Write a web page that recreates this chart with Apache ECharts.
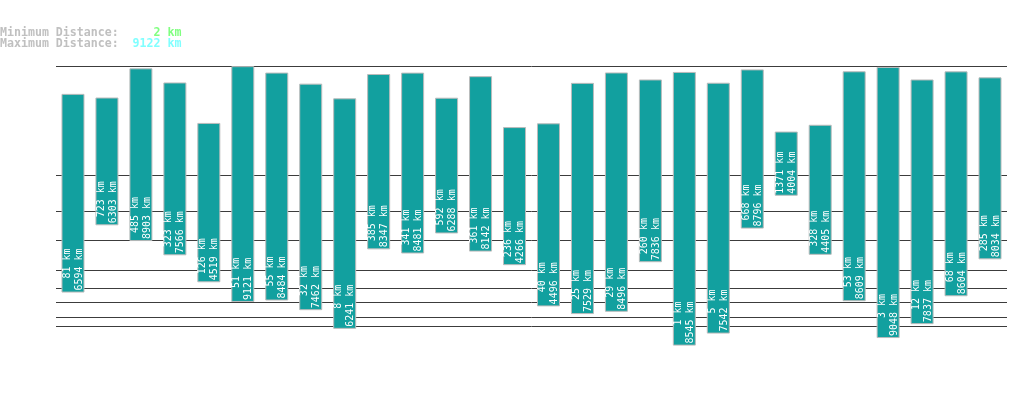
<!DOCTYPE html>
<html>
<head>
<meta charset="utf-8">
<script src="https://cdn.jsdelivr.net/npm/echarts@6/dist/echarts.min.js"></script>
<style>
html,body{margin:0;padding:0;background:#fff;}
#chart{width:1019px;height:402px;}
</style>
</head>
<body>
<div id="chart"></div>
<script>
// ---- data ----
var categories = ['1','2','3','4','5','6','7','8','9','10','11','12','13','14','15','16','17','18','19','20','21','22','23','24','25','26','27','28'];
var minKm = [81,723,485,323,126,51,55,32,8,385,341,592,361,236,40,25,29,260,1,5,668,1371,328,53,3,12,68,285];
var maxKm = [6594,6303,8903,7566,4519,9121,8484,7462,6241,8347,8481,6288,8142,4266,4496,7529,8496,7836,8545,7542,8796,4004,4405,8609,9048,7837,8604,8034];
var gridValues = [10,20,50,100,200,500,1000,2000];
var minimumDistance = 2;
var maximumDistance = 9122;
var POWER = 0.3;

function tf(v){ return Math.pow(v, POWER); }

var baseData = minKm.map(function(v){ return tf(v); });
var spanData = maxKm.map(function(v, i){ return tf(v) - tf(minKm[i]); });

var markData = gridValues.concat([maximumDistance]).map(function(v){ return { yAxis: tf(v) }; });

function pad(s, n){ s = String(s); while (s.length < n) s = ' ' + s; return s; }

var chart = echarts.init(document.getElementById('chart'), null, {renderer:'canvas'});
chart.setOption({
  animation: false,
  backgroundColor: '#ffffff',
  title: {
    left: 0, top: 27, padding: 0,
    text: '{a|Minimum Distance:}{g|' + pad(minimumDistance, 6) + ' km}\n{a|Maximum Distance:}{c|' + pad(maximumDistance, 6) + ' km}',
    textStyle: {
      rich: {
        a: { color: '#c0c0c0', fontFamily: 'DejaVu Sans Mono', fontWeight: 'bold', fontSize: 11.6, lineHeight: 11 },
        g: { color: '#80ff80', fontFamily: 'DejaVu Sans Mono', fontWeight: 'bold', fontSize: 11.6, lineHeight: 11 },
        c: { color: '#80ffff', fontFamily: 'DejaVu Sans Mono', fontWeight: 'bold', fontSize: 11.6, lineHeight: 11 }
      }
    }
  },
  grid: { left: 56, right: 12, top: 66, bottom: 37, containLabel: false },
  xAxis: { type: 'category', data: categories, show: false },
  yAxis: { type: 'value', min: 0, max: tf(maximumDistance) * 1.0005, show: false, splitLine: { show: false } },
  series: [
    {
      type: 'bar', stack: 'range', data: baseData, barWidth: 23, clip: false,
      itemStyle: { color: 'rgba(0,0,0,0)' }, silent: true, z: 1,
      markLine: {
        silent: true, symbol: ['none','none'], z: 1,
        label: { show: false },
        lineStyle: { color: '#3c3c3c', width: 1, type: 'solid' },
        emphasis: { disabled: true },
        data: markData
      }
    },
    {
      type: 'bar', stack: 'range', data: spanData, barWidth: 23, z: 3,
      itemStyle: { color: '#12a09f', borderColor: '#bbbbbb', borderWidth: 1 },
      label: {
        show: true, position: 'insideBottom', distance: 2, rotate: 90,
        align: 'left', verticalAlign: 'middle',
        color: '#ffffff', fontFamily: 'DejaVu Sans Mono', fontSize: 10, lineHeight: 12,
        formatter: function(p){
          var i = p.dataIndex;
          return pad(minKm[i], 4) + ' km\n' + pad(maxKm[i], 4) + ' km';
        }
      }
    }
  ]
});
</script>
</body>
</html>
